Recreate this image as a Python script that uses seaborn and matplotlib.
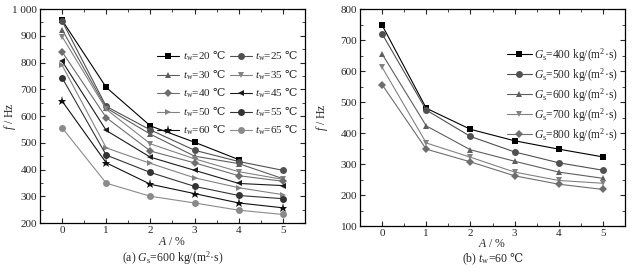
import numpy as np
import pandas as pd
import matplotlib
matplotlib.use("Agg")
import matplotlib.pyplot as plt
import seaborn as sns
from matplotlib.ticker import MultipleLocator, FuncFormatter


A = [0, 1, 2, 3, 4, 5]

# (a) Gs = 600 kg/(m2 s), series by water temperature tw
TW_LABELS = [20, 25, 30, 35, 40, 45, 50, 55, 60, 65]
f_tw20 = [958, 707, 563, 502, 437, np.nan]
f_tw25 = [955, 636, 548, 472, 430, 397]
f_tw30 = [923, 630, 532, 450, 422, 366]
f_tw35 = [897, 625, 496, 440, 392, 363]
f_tw40 = [840, 594, 469, 425, 377, 356]
f_tw45 = [805, 546, 446, 397, 348, 340]
f_tw50 = [790, 481, 423, 369, 332, 306]
f_tw55 = [743, 454, 389, 337, 303, 291]
f_tw60 = [656, 425, 345, 310, 275, 257]
f_tw65 = [556, 349, 300, 275, 248, 232]

# (b) tw = 60 C, series by mass flux Gs
GS_LABELS = [400, 500, 600, 700, 800]
f_gs400 = [748, 480, 412, 375, 348, 323]
f_gs500 = [720, 474, 389, 339, 304, 280]
f_gs600 = [655, 423, 346, 309, 274, 254]
f_gs700 = [612, 368, 322, 274, 247, 238]
f_gs800 = [556, 348, 307, 262, 235, 218]

DEG = r"$\mathsf{℃}$"


def style_axes(ax, ymin, ymax, xpad=1):
	ax.set_xlim(-0.5, 5.5)
	ax.set_ylim(ymin, ymax)
	ax.xaxis.set_major_locator(MultipleLocator(1))
	ax.xaxis.set_minor_locator(MultipleLocator(0.5))
	ax.yaxis.set_major_locator(MultipleLocator(100))
	ax.yaxis.set_minor_locator(MultipleLocator(50))
	ax.tick_params(which="both", direction="in", top=True, right=True,
		labelsize=8, pad=2)
	ax.tick_params(which="major", length=3.5, width=0.8)
	ax.tick_params(which="minor", length=2, width=0.6)
	for s in ax.spines.values():
		s.set_linewidth(0.9)
		s.set_color("black")
	ax.set_xlabel("$A$ / %", fontsize=8.5, labelpad=xpad)
	ax.set_ylabel("$f$ / Hz", fontsize=8.5, labelpad=1)


def plot_series(ax, series, labels, colors, markers, sizes):
	handles = []
	for vals, lab, c, m, ms in zip(series, labels, colors, markers, sizes):
		df = pd.DataFrame({"A": A, "f": vals}).dropna()
		sns.lineplot(data=df, x="A", y="f", ax=ax, color=c, marker=m,
			markersize=ms, markeredgewidth=0, linewidth=0.8, label=lab,
			legend=False)
		handles.append(ax.lines[-1])
	return handles


def main():
	sns.set_style("ticks")
	plt.rcParams["font.family"] = ["Liberation Serif", "DejaVu Serif"]
	plt.rcParams["mathtext.fontset"] = "custom"
	plt.rcParams["mathtext.rm"] = "Liberation Serif"
	plt.rcParams["mathtext.it"] = "Liberation Serif:italic"
	plt.rcParams["mathtext.sf"] = "DejaVu Serif"

	fig = plt.figure(figsize=(6.39, 2.73), dpi=100)
	ax1 = fig.add_axes([0.0626, 0.183, 0.4147, 0.784])
	ax2 = fig.add_axes([0.5634, 0.172, 0.4147, 0.795])

	tw_series = [f_tw20, f_tw25, f_tw30, f_tw35, f_tw40,
		f_tw45, f_tw50, f_tw55, f_tw60, f_tw65]
	tw_colors = ["#000000", "#505050", "#5e5e5e", "#828282", "#6e6e6e",
		"#1a1a1a", "#828282", "#333333", "#101010", "#8a8a8a"]
	tw_markers = ["s", "o", "^", "v", "D", "<", ">", "o", "*", "o"]
	tw_sizes = [5, 5, 5, 5, 4, 5, 5, 5, 6.5, 5]
	tw_names = [r"$t_{\mathrm{w}}$=%d " % t + DEG for t in TW_LABELS]
	h1 = plot_series(ax1, tw_series, tw_names, tw_colors, tw_markers, tw_sizes)
	style_axes(ax1, 200, 1000)
	ax1.yaxis.set_major_formatter(FuncFormatter(
		lambda v, p: "1 000" if v == 1000 else "%d" % v))
	ax1.yaxis.set_label_coords(-0.084, 0.5)
	order = [0, 2, 4, 6, 8, 1, 3, 5, 7, 9]
	ax1.legend([h1[i] for i in order], [tw_names[i] for i in order],
		ncol=2, loc="upper right", bbox_to_anchor=(1.0, 0.84),
		frameon=False, fontsize=8, handlelength=2.0, handletextpad=0.3,
		columnspacing=0.4, labelspacing=0.45, borderaxespad=0.2)

	gs_series = [f_gs400, f_gs500, f_gs600, f_gs700, f_gs800]
	gs_colors = ["#000000", "#505050", "#5e5e5e", "#828282", "#6e6e6e"]
	gs_markers = ["s", "o", "^", "v", "D"]
	gs_sizes = [5, 5, 5, 5, 4]
	gs_names = [r"$G_{\mathrm{s}}$=%d kg/(m$^2$·s)" % g for g in GS_LABELS]
	h2 = plot_series(ax2, gs_series, gs_names, gs_colors, gs_markers, gs_sizes)
	style_axes(ax2, 100, 800, xpad=0)
	ax2.yaxis.set_label_coords(-0.112, 0.5)
	ax2.legend(h2, gs_names, loc="upper right", bbox_to_anchor=(1.0, 0.86),
		frameon=False, fontsize=8.3, handlelength=2.2, handletextpad=0.2,
		labelspacing=0.2, borderaxespad=0.2)

	fig.text(0.2700, 0.056, r"(a) $G_{\mathrm{s}}$=600 kg/(m$^2$·s)",
		ha="center", va="center", fontsize=8.5)
	fig.text(0.7710, 0.050, r"(b) $t_{\mathrm{w}}$=60 " + DEG,
		ha="center", va="center", fontsize=8.5)

	fig.savefig("out.png", dpi=100)


if __name__ == "__main__":
	main()
